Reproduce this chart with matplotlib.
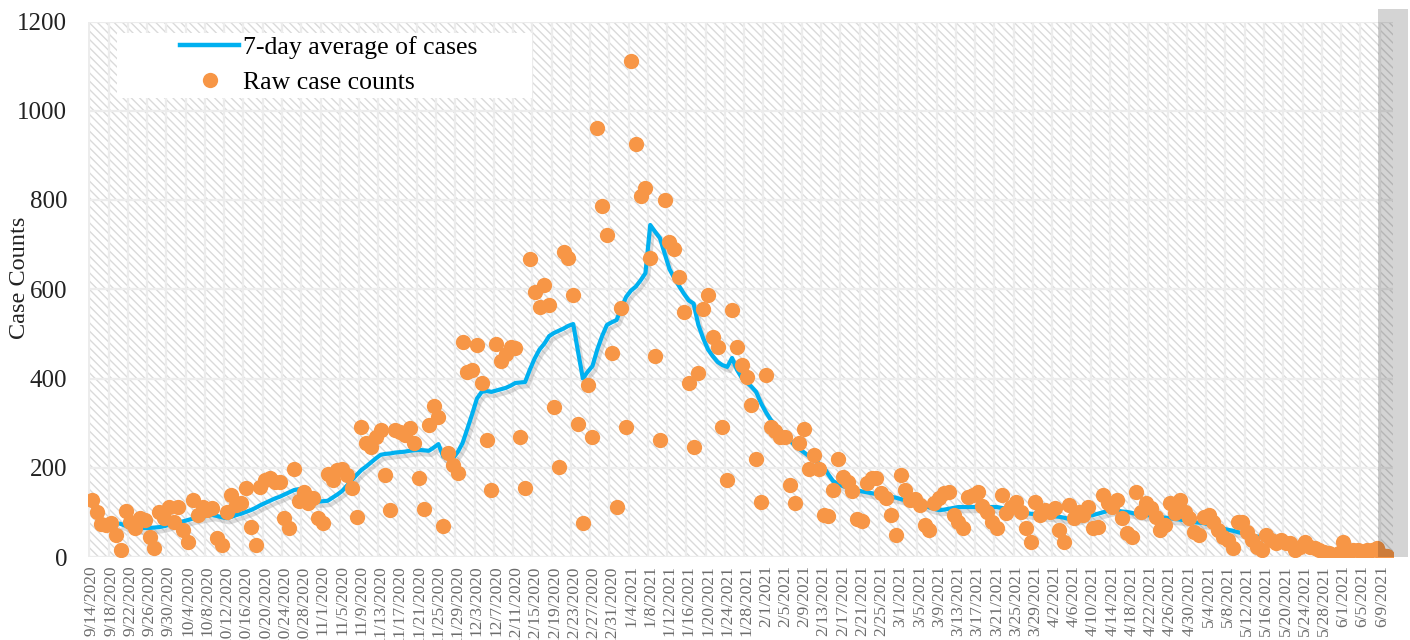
import numpy as np
import pandas as pd
import matplotlib
matplotlib.use("Agg")
import matplotlib.pyplot as plt
import matplotlib.patheffects as pe
from matplotlib.patches import Rectangle

plt.rcParams['font.family'] = ['Liberation Serif', 'DejaVu Serif']
plt.rcParams['hatch.linewidth'] = 1.0

# daily raw case counts, 9/14/2020 onward
raw_counts = [
    128, 100, 75, 72, 76, 50, 16, 102, 79, 65,
    87, 83, 45, 20, 101, 87, 112, 78, 112, 60,
    34, 128, 94, 112, 105, 110, 43, 27, 101, 139,
    117, 121, 155, 67, 27, 157, 173, 177, 168, 168,
    87, 65, 198, 125, 146, 121, 132, 87, 76, 185,
    172, 195, 198, 184, 155, 90, 292, 255, 247, 269,
    285, 184, 105, 285, 280, 274, 289, 255, 177, 108,
    296, 338, 314, 69, 233, 206, 188, 482, 415, 419,
    475, 390, 262, 150, 478, 440, 455, 471, 468, 270,
    155, 668, 594, 561, 610, 565, 336, 202, 684, 670,
    588, 298, 77, 386, 268, 962, 787, 722, 457, 112,
    558, 291, 1112, 926, 809, 826, 670, 451, 262, 800,
    705, 690, 628, 549, 390, 247, 412, 555, 587, 494,
    470, 292, 173, 554, 471, 430, 404, 341, 220, 123,
    408, 291, 283, 269, 269, 161, 121, 256, 287, 198,
    229, 198, 94, 92, 150, 220, 179, 168, 148, 85,
    80, 166, 177, 177, 143, 132, 94, 50, 184, 150,
    128, 130, 117, 72, 61, 121, 132, 143, 146, 94,
    78, 65, 135, 139, 146, 115, 100, 78, 65, 139,
    98, 112, 123, 101, 65, 34, 123, 94, 105, 101,
    110, 61, 34, 117, 87, 101, 95, 112, 65, 67,
    139, 121, 112, 128, 87, 54, 45, 146, 101, 121,
    110, 90, 61, 72, 121, 98, 128, 101, 87, 56,
    49, 90, 94, 78, 61, 45, 38, 20, 78, 78,
    56, 38, 22, 16, 49, 38, 31, 38, 31, 31,
    16, 22, 34, 22, 20, 16, 11, 9, 4, 9,
    34, 9, 16, 16, 4, 16, 16, 20, 4, 2,
]

# 7-day average as drawn, starting on day 7 (9/20/2020)
avg_start = 6
avg_counts = [
    74, 70, 65, 64, 64, 65, 65, 66, 67, 69,
    72, 75, 78, 80, 83, 86, 88, 90, 92, 94,
    92, 89, 87, 90, 94, 97, 101, 105, 110, 116,
    121, 126, 131, 135, 140, 145, 150, 152, 140, 130,
    125, 124, 125, 126, 133, 140, 148, 160, 172, 184,
    195, 203, 212, 221, 229, 231, 232, 234, 235, 236,
    238, 239, 240, 239, 238, 245, 253, 225, 222, 221,
    235, 255, 287, 320, 355, 370, 372, 370, 373, 376,
    379, 384, 390, 391, 392, 420, 445, 465, 478, 495,
    502, 507, 512, 518, 522, 460, 400, 415, 428, 465,
    495, 520, 526, 531, 558, 583, 597, 606, 620, 636,
    744, 729, 715, 680, 645, 625, 607, 590, 575, 568,
    520, 490, 465, 450, 437, 430, 426, 446, 420, 402,
    392, 382, 370, 345, 325, 308, 296, 285, 272, 262,
    250, 242, 234, 226, 218, 210, 202, 185, 170, 164,
    159, 155, 152, 149, 147, 145, 143, 141, 139, 137,
    135, 133, 130, 127, 124, 121, 118, 115, 111, 108,
    105, 106, 108, 110, 112, 112, 112, 112, 112, 112,
    112, 112, 112, 110, 108, 105, 103, 101, 99, 97,
    96, 94, 93, 92, 91, 90, 88, 85, 83, 86,
    89, 92, 94, 97, 100, 103, 105, 104, 102, 101,
    99, 96, 94, 94, 93, 91, 90, 88, 87, 85,
    84, 82, 80, 78, 77, 76, 73, 70, 67, 64,
    61, 59, 56, 53, 50, 48, 46, 45, 42, 39,
    36, 34, 32, 30, 28, 26, 25, 23, 21, 20,
    18, 16, 15, 14, 14, 13, 13, 12, 12, 12,
    11, 11, 10, 10,
]

dates = pd.date_range('2020-09-14', periods=len(raw_counts), freq='D')
day = np.arange(len(raw_counts))
avg_day = np.arange(avg_start, avg_start + len(avg_counts))
tick_step = 4
tick_labels = [f"{d.month}/{d.day}/{d.year}" for d in dates[::tick_step]]

W, H = 1410, 640
fig = plt.figure(figsize=(W / 100, H / 100), dpi=100)
ax = fig.add_axes([88 / W, 83 / H, 1305 / W, 535.5 / H])

# hatched plot area
ax.add_patch(Rectangle((0, 0), 1, 1, transform=ax.transAxes, facecolor='white',
                       edgecolor='#dadada', hatch='\\\\\\\\', lw=0, zorder=0))

ax.set_xlim(-0.8, 270.3)
ax.set_ylim(0, 1200)

ax.set_xticks(day[::tick_step])
ax.set_xticklabels(tick_labels, rotation=90, fontsize=12.5, color='#6b6b6b')
ax.set_xticks(np.arange(-0.5, len(raw_counts), tick_step), minor=True)
ax.set_yticks(np.arange(0, 1201, 200))
ax.tick_params(axis='y', length=0, pad=15, labelsize=18, labelcolor='#222222')
ax.tick_params(axis='x', which='both', length=0, pad=6)
ax.grid(which='minor', axis='x', color='#ececec', lw=1.6, zorder=1)
ax.grid(which='major', axis='y', color='#ececec', lw=1.6, zorder=1)
ax.set_axisbelow(False)
for s in ax.spines.values():
    s.set_visible(False)

line, = ax.plot(avg_day, avg_counts, color='#00B0F0', lw=3, zorder=3,
                solid_joinstyle='round',
                path_effects=[pe.SimpleLineShadow(offset=(2, -3), shadow_color='#777777', alpha=0.25),
                              pe.Normal()])
dots, = ax.plot(day, raw_counts, 'o', color='#F79646', ms=11, mec='none', zorder=4)

# shaded band over the latest days
ax.add_patch(Rectangle((267.2, 0), 6.2, 1228, facecolor='black', alpha=0.17,
                       edgecolor='none', clip_on=False, zorder=5))

# legend box (white, borderless)
lx0, lx1, ly0, ly1 = 117, 532, 33, 98
ax.add_patch(Rectangle(((lx0 - 88) / 1305, (557 - ly1) / 535.5),
                       (lx1 - lx0) / 1305, (ly1 - ly0) / 535.5,
                       transform=ax.transAxes, facecolor='white', edgecolor='none', zorder=6))
leg_line = plt.Line2D([], [], color='#00B0F0', lw=3.2)
leg = ax.legend([leg_line, dots], ['7-day average of cases', 'Raw case counts'],
                loc='upper left', bbox_to_anchor=((180 - 88) / 1305, (557 - 36) / 535.5),
                fontsize=18.5, frameon=False,
                handlelength=2.3, handletextpad=0.15, borderpad=0, labelspacing=0.45,
                borderaxespad=0)
leg.set_zorder(7)

fig.text(20 / W, 1 - 278 / H, 'Case Counts', rotation=90, ha='center', va='center',
         fontsize=17.5, color='#222222')

fig.savefig('out.png', dpi=100)
